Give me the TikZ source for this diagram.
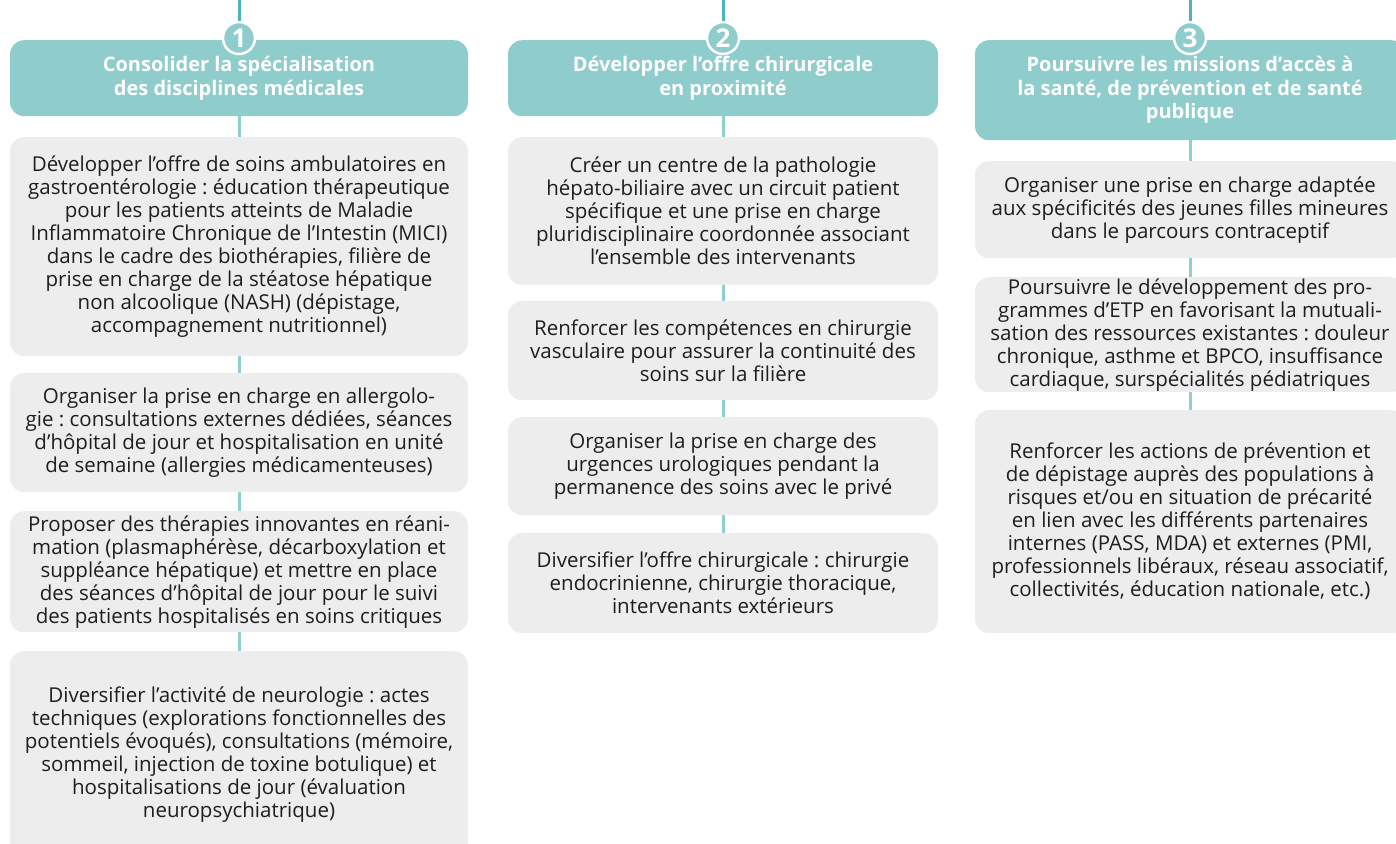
\documentclass[tikz,border=0pt]{standalone}
\usepackage{fontspec}
\setmainfont{Open Sans}
\usetikzlibrary{positioning}
\definecolor{headteal}{HTML}{8FCCCC}
\definecolor{topteal}{HTML}{4BB4BC}
\definecolor{linkteal}{HTML}{8ECFD2}
\definecolor{boxgray}{HTML}{EDEDED}
\definecolor{textgray}{HTML}{1E1E1E}
\frenchspacing
\begin{document}
\begin{tikzpicture}[x=1pt,y=-1pt, inner sep=0pt,
  head/.style={fill=headteal,rounded corners=14pt,align=center,anchor=north,text=white,font=\fontsize{20}{23.5}\selectfont\bfseries},
  item/.style={fill=boxgray,rounded corners=14pt,align=center,anchor=north,text=textgray,font=\fontsize{20.5}{23}\selectfont},
  num/.style={circle,fill=headteal,draw=white,line width=2.5pt,minimum size=32pt,text=white,font=\fontsize{26}{26}\selectfont\bfseries},
  topline/.style={draw=topteal,line width=3pt},
  link/.style={draw=linkteal,line width=3pt}]
\useasboundingbox (0,0) rectangle (1396,843);
% axe 1
\node[head,minimum width=458pt,minimum height=76pt] (h1) at (239,40) {Consolider la spécialisation\\des disciplines médicales};
\node[item,minimum width=458pt,minimum height=219pt] (a1) at (239,137) {Développer l’offre de soins ambulatoires en\\gastroentérologie : éducation thérapeutique\\pour les patients atteints de Maladie\\Inflammatoire Chronique de l’Intestin (MICI)\\dans le cadre des biothérapies, filière de\\prise en charge de la stéatose hépatique\\non alcoolique (NASH) (dépistage,\\accompagnement nutritionnel)};
\node[item,minimum width=458pt,minimum height=119pt] (a2) at (239,373) {Organiser la prise en charge en allergolo-\\gie : consultations externes dédiées, séances\\d’hôpital de jour et hospitalisation en unité\\de semaine (allergies médicamenteuses)};
\node[item,minimum width=458pt,minimum height=121pt] (a3) at (239,511) {Proposer des thérapies innovantes en réani-\\mation (plasmaphérèse, décarboxylation et\\suppléance hépatique) et mettre en place\\des séances d’hôpital de jour pour le suivi\\des patients hospitalisés en soins critiques};
\node[item,minimum width=458pt,minimum height=206pt] (a4) at (239,651) {Diversifier l’activité de neurologie : actes\\techniques (explorations fonctionnelles des\\potentiels évoqués), consultations (mémoire,\\sommeil, injection de toxine botulique) et\\hospitalisations de jour (évaluation\\neuropsychiatrique)};
% axe 2
\node[head,minimum width=430pt,minimum height=76pt] (h2) at (723,40) {Développer l’offre chirurgicale\\en proximité};
\node[item,minimum width=430pt,minimum height=148pt] (b1) at (723,137) {Créer un centre de la pathologie\\hépato-biliaire avec un circuit patient\\spécifique et une prise en charge\\pluridisciplinaire coordonnée associant\\l’ensemble des intervenants};
\node[item,minimum width=430pt,minimum height=99pt] (b2) at (723,301) {Renforcer les compétences en chirurgie\\vasculaire pour assurer la continuité des\\soins sur la filière};
\node[item,minimum width=430pt,minimum height=98pt] (b3) at (723,417) {Organiser la prise en charge des\\urgences urologiques pendant la\\permanence des soins avec le privé};
\node[item,minimum width=430pt,minimum height=100pt] (b4) at (723,533) {Diversifier l’offre chirurgicale : chirurgie\\endocrinienne, chirurgie thoracique,\\intervenants extérieurs};
% axe 3
\node[head,minimum width=430pt,minimum height=100pt] (h3) at (1190,40) {Poursuivre les missions d’accès à\\la santé, de prévention et de santé\\publique};
\node[item,minimum width=430pt,minimum height=97pt] (c1) at (1190,161) {Organiser une prise en charge adaptée\\aux spécificités des jeunes filles mineures\\dans le parcours contraceptif};
\node[item,minimum width=430pt,minimum height=115pt] (c2) at (1190,277) {Poursuivre le développement des pro-\\grammes d’ETP en favorisant la mutuali-\\sation des ressources existantes : douleur\\chronique, asthme et BPCO, insuffisance\\cardiaque, surspécialités pédiatriques};
\node[item,minimum width=430pt,minimum height=223pt] (c3) at (1190,410) {Renforcer les actions de prévention et\\de dépistage auprès des populations à\\risques et/ou en situation de précarité\\en lien avec les différents partenaires\\internes (PASS, MDA) et externes (PMI,\\professionnels libéraux, réseau associatif,\\collectivités, éducation nationale, etc.)};
% liens
\draw[link] (h1) -- (a1);
\draw[link] (a1) -- (a2);
\draw[link] (a2) -- (a3);
\draw[link] (a3) -- (a4);
\draw[link] (h2) -- (b1);
\draw[link] (b1) -- (b2);
\draw[link] (b2) -- (b3);
\draw[link] (b3) -- (b4);
\draw[link] (h3) -- (c1);
\draw[link] (c1) -- (c2);
\draw[link] (c2) -- (c3);
% numeros
\coordinate (t1) at (239,0);
\coordinate (t2) at (723,0);
\coordinate (t3) at (1190,0);
\node[num] (n1) at (239,38) {1};
\node[num] (n2) at (723,38) {2};
\node[num] (n3) at (1190,38) {3};
\draw[topline] (t1) -- (n1);
\draw[topline] (t2) -- (n2);
\draw[topline] (t3) -- (n3);
\end{tikzpicture}
\end{document}
